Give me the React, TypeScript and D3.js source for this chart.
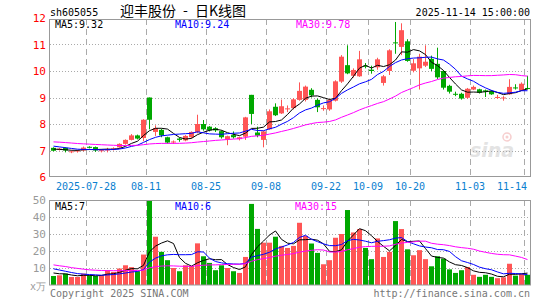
import React from 'react';
import * as d3 from 'd3';

// daily bars, 2025-07-18 .. 2025-11-14 (price in yuan, volume in 万手)
const dates = [
  '07-18', '07-21', '07-22', '07-23', '07-24', '07-25', '07-28', '07-29', '07-30', '07-31',
  '08-01', '08-04', '08-05', '08-06', '08-07', '08-08', '08-11', '08-12', '08-13', '08-14',
  '08-15', '08-18', '08-19', '08-20', '08-21', '08-22', '08-25', '08-26', '08-27', '08-28',
  '08-29', '09-01', '09-02', '09-03', '09-04', '09-05', '09-08', '09-09', '09-10', '09-11',
  '09-12', '09-15', '09-16', '09-17', '09-18', '09-19', '09-22', '09-23', '09-24', '09-25',
  '09-26', '09-29', '09-30', '10-09', '10-10', '10-13', '10-14', '10-15', '10-16', '10-17',
  '10-20', '10-21', '10-22', '10-23', '10-24', '10-27', '10-28', '10-29', '10-30', '10-31',
  '11-03', '11-04', '11-05', '11-06', '11-07', '11-10', '11-11', '11-12', '11-13', '11-14',
];
const opens = [
  7.10, 7.03, 7.10, 6.95, 6.96, 7.00, 7.14, 7.13, 6.98, 7.01,
  7.04, 7.12, 7.25, 7.40, 7.57, 7.47, 9.00, 7.70, 7.78, 7.50,
  7.32, 7.45, 7.38, 7.50, 7.70, 8.00, 7.90, 7.84, 7.73, 7.42,
  7.58, 7.43, 7.52, 9.10, 7.68, 7.40, 7.80, 8.65, 8.40, 8.56,
  8.60, 8.91, 8.91, 9.29, 8.91, 8.58, 8.55, 8.88, 9.60, 10.22,
  9.82, 9.80, 10.20, 10.05, 10.14, 9.55, 10.00, 11.08, 10.91, 11.12,
  10.01, 10.10, 10.20, 10.46, 10.27, 10.00, 9.44, 9.14, 9.14, 8.99,
  9.30, 9.31, 9.27, 9.24, 9.00, 8.98, 9.12, 9.38, 9.27, 9.36,
];
const highs = [
  7.12, 7.10, 7.12, 7.00, 7.02, 7.15, 7.16, 7.15, 7.05, 7.10,
  7.12, 7.27, 7.42, 7.62, 7.60, 8.18, 9.00, 7.95, 7.82, 7.52,
  7.38, 7.48, 7.58, 7.72, 8.35, 8.15, 7.92, 7.88, 7.76, 7.56,
  7.72, 7.52, 8.27, 9.10, 7.90, 7.75, 8.55, 8.78, 8.92, 8.70,
  8.98, 9.57, 9.45, 9.35, 8.96, 8.70, 8.95, 9.65, 10.60, 10.97,
  10.10, 10.76, 10.30, 10.20, 10.50, 9.85, 10.82, 11.85, 11.80, 11.20,
  10.45, 10.65, 10.97, 10.58, 10.88, 10.02, 9.48, 9.22, 9.18, 9.36,
  9.45, 9.33, 9.30, 9.28, 9.10, 9.05, 9.69, 9.50, 9.57, 9.82,
];
const lows = [
  6.97, 7.00, 6.93, 6.90, 6.92, 6.97, 7.08, 6.95, 6.93, 6.93,
  7.00, 7.10, 7.22, 7.38, 7.42, 7.35, 7.80, 7.55, 7.50, 7.26,
  7.25, 7.33, 7.35, 7.46, 7.65, 7.75, 7.72, 7.70, 7.45, 7.20,
  7.45, 7.38, 7.40, 8.00, 7.50, 7.12, 7.78, 8.30, 8.38, 8.45,
  8.55, 8.88, 8.85, 9.00, 8.45, 8.50, 8.50, 8.85, 9.55, 9.88,
  9.75, 9.78, 10.10, 9.90, 10.05, 9.45, 9.85, 10.65, 10.60, 10.35,
  9.95, 9.30, 10.15, 10.00, 9.70, 9.30, 9.15, 9.05, 8.92, 8.95,
  9.28, 9.15, 9.02, 9.10, 8.95, 8.88, 9.10, 9.30, 9.25, 9.30,
];
const closes = [
  6.99, 7.07, 7.00, 6.97, 7.00, 7.11, 7.10, 7.00, 7.01, 7.04,
  7.08, 7.25, 7.40, 7.57, 7.45, 8.16, 8.16, 7.85, 7.57, 7.30,
  7.34, 7.40, 7.55, 7.70, 8.00, 7.80, 7.76, 7.76, 7.50, 7.54,
  7.50, 7.50, 8.25, 8.38, 7.56, 7.72, 8.48, 8.33, 8.67, 8.59,
  8.93, 9.25, 9.41, 9.08, 8.63, 8.60, 8.91, 9.61, 10.54, 9.91,
  10.04, 10.44, 10.16, 10.00, 10.44, 9.80, 10.78, 11.05, 11.54, 10.38,
  10.29, 10.54, 10.35, 10.08, 9.76, 9.37, 9.22, 9.12, 8.96, 9.33,
  9.40, 9.18, 9.22, 9.12, 9.02, 9.00, 9.40, 9.37, 9.52, 9.32,
];
const volumes = [
  5.3, 5.7, 6.7, 4.7, 4.7, 6.7, 5.7, 5.3, 5.7, 8.7,
  7.7, 9.7, 11.6, 10.5, 8.1, 17.9, 49.5, 28.4, 19.5, 14.6,
  10.0, 8.1, 11.6, 11.2, 24.5, 16.9, 13.0, 8.7, 11.6, 10.0,
  8.1, 7.1, 16.5, 47.7, 33.0, 24.9, 24.9, 28.4, 23.0, 21.8,
  23.0, 36.6, 28.9, 24.4, 18.9, 12.2, 14.6, 27.8, 30.0, 44.1,
  30.9, 32.9, 21.8, 15.2, 27.4, 16.5, 19.5, 37.6, 32.9, 21.0,
  17.5, 20.5, 15.2, 11.0, 16.9, 15.5, 9.2, 7.1, 8.7, 10.6,
  6.0, 4.8, 6.0, 4.8, 4.0, 4.5, 12.5, 5.5, 6.5, 6.0,
];
// the 29 sessions before the window, only needed for the moving averages
const priorCloses = [
  7.40, 7.45, 7.50, 7.55, 7.48, 7.42, 7.38, 7.32, 7.35, 7.38,
  7.50, 7.45, 7.40, 7.42, 7.38, 7.35, 7.40, 7.36, 7.30, 7.33,
  7.35, 7.30, 7.25, 7.28, 7.20, 7.12, 7.08, 7.05, 7.02,
];
const priorVolumes = [
  22, 20, 24, 18, 21, 17, 12, 11, 10, 9,
  10, 11, 9, 8, 10, 9, 8, 9, 10, 12,
  13, 14, 12, 11, 10, 8, 7, 8, 7,
];

const tickDates = ['07-28', '08-11', '08-25', '09-08', '09-22', '10-09', '10-20', '11-03', '11-14'];
const tickLabels = ['2025-07-28', '08-11', '08-25', '09-08', '09-22', '10-09', '10-20', '11-03', '11-14'];
const priceTicks = [6, 7, 8, 9, 10, 11, 12];
const volTicks = [10, 20, 30, 40, 50];

const RED = '#ff5555';
const GREEN = '#00a800';
const MONO = '"DejaVu Sans Mono", monospace';
const CJK = '"Noto Sans CJK SC", sans-serif';

function movingAvg(values: number[], prior: number[], n: number) {
  const all = prior.concat(values);
  return values.map((_, i) => d3.mean(all.slice(prior.length + i - n + 1, prior.length + i + 1)) as number);
}

export default function App() {
  const left = 50, right = 530;
  const x = d3.scaleBand<string>().domain(dates).range([left, right]).paddingInner(0).paddingOuter(0);
  const y = d3.scaleLinear().domain([6, 12]).range([177, 18]);
  const yv = d3.scaleLinear().domain([0, 50]).range([285, 200]);
  const cx = (d: string) => (x(d) as number) + 3.5;

  const priceLine = d3.line<number>().x((_, i) => cx(dates[i])).y(v => y(v));
  const volLine = d3.line<number>().x((_, i) => cx(dates[i])).y(v => yv(v));

  const ma = [
    { n: 5, color: '#000000' },
    { n: 10, color: '#0000ff' },
    { n: 30, color: '#ff00ff' },
  ];

  const gridV = tickDates.map(d => Math.round(x(d) as number) + 0.5);

  return (
    <svg width={545} height={300} style={{ position: 'absolute', left: 0, top: 0, background: '#fff' }}>
      {/* header */}
      <text x={50} y={15.5} fontFamily={MONO} fontSize={10} fill="#000">sh605055</text>
      <text x={120} y={16} fontFamily={CJK} fontSize={14} fill="#000">迎丰股份</text>
      <text x={183} y={15} fontFamily={CJK} fontSize={14} fill="#000">-</text>
      <text x={195} y={16} fontFamily={CJK} fontSize={14} fill="#000">日K线图</text>
      <text x={530} y={15.5} fontFamily={MONO} fontSize={10} fill="#000" textAnchor="end">2025-11-14 15:00:00</text>

      {/* watermark */}
      <g opacity={0.5}>
        <circle cx={507} cy={137} r={4} fill="none" stroke="#f0a0a0" strokeWidth={1.5} />
        <circle cx={507} cy={137} r={1.5} fill="#f0a0a0" />
        <text x={470} y={157} fontFamily='"DejaVu Sans", sans-serif' fontSize={19} fontStyle="italic" fontWeight="bold" fill="#c8c8c8">sina</text>
      </g>

      {/* grid */}
      {priceTicks.filter(t => t > 6 && t < 12).map(t => (
        <line key={'ph' + t} x1={left} x2={right} y1={Math.round(y(t)) + 0.5} y2={Math.round(y(t)) + 0.5}
          stroke="#aaa" strokeDasharray="1,2" />
      ))}
      {volTicks.filter(t => t < 50).map(t => (
        <line key={'vh' + t} x1={left} x2={right} y1={Math.round(yv(t)) + 0.5} y2={Math.round(yv(t)) + 0.5}
          stroke="#aaa" strokeDasharray="1,2" />
      ))}
      {gridV.map((gx, k) => (
        <g key={'gv' + k}>
          <line x1={gx} x2={gx} y1={19} y2={177} stroke="#aaa" strokeDasharray="6,4" />
          <line x1={gx} x2={gx} y1={200} y2={285} stroke="#aaa" strokeDasharray="6,4" />
        </g>
      ))}

      {/* candles */}
      {dates.map((d, i) => {
        const x0 = x(d) as number;
        const up = closes[i] >= opens[i];
        const top = y(Math.max(opens[i], closes[i]));
        const bot = y(Math.min(opens[i], closes[i]));
        return (
          <g key={'c' + i} fill={up ? RED : GREEN}>
            <rect x={x0 + 3} y={y(highs[i])} width={1} height={y(lows[i]) - y(highs[i])} />
            <rect x={x0 + 1} y={top} width={5} height={Math.max(1, bot - top)} />
          </g>
        );
      })}

      {/* volume bars */}
      {dates.map((d, i) => {
        const x0 = x(d) as number;
        const up = closes[i] >= opens[i];
        return (
          <rect key={'v' + i} x={x0 + 1} y={yv(volumes[i])} width={5} height={yv(0) - yv(volumes[i])}
            fill={up ? RED : GREEN} />
        );
      })}

      {/* moving averages */}
      {ma.map(m => (
        <path key={'pm' + m.n} d={priceLine(movingAvg(closes, priorCloses, m.n)) || ''} fill="none" stroke={m.color} strokeWidth={1} />
      ))}
      {ma.map(m => (
        <path key={'vm' + m.n} d={volLine(movingAvg(volumes, priorVolumes, m.n)) || ''} fill="none" stroke={m.color} strokeWidth={1} />
      ))}

      {/* frames */}
      <rect x={left - 0.5} y={19.5} width={right - left + 1} height={157} fill="none" stroke="#999" />
      <rect x={left - 0.5} y={200.5} width={right - left + 1} height={84.5} fill="none" stroke="#999" />

      {/* legends */}
      <g fontFamily={MONO} fontSize={10}>
        <text x={55} y={28} fill="#000">MA5:9.32</text>
        <text x={175} y={28} fill="#0000ff">MA10:9.24</text>
        <text x={296} y={28} fill="#ff00ff">MA30:9.78</text>
        <text x={55} y={210} fill="#000">MA5:7</text>
        <text x={175} y={210} fill="#0000ff">MA10:6</text>
        <text x={295} y={210} fill="#ff00ff">MA30:15</text>
      </g>

      {/* axis labels */}
      <g fontFamily={MONO} fontSize={11} textAnchor="end">
        {priceTicks.map(t => (
          <text key={'pt' + t} x={46} y={y(t) + 4} fill="#ff0000">{t}</text>
        ))}
        {volTicks.map(t => (
          <text key={'vt' + t} x={46} y={yv(t) + 4} fill="#999">{t}</text>
        ))}
        <text x={46} y={290} fill="#999" fontSize={10}>x万</text>
      </g>
      <g fontFamily={MONO} fontSize={10} fill="#0a80d0">
        {tickDates.map((d, k) => {
          const gx = x(d) as number;
          const w = tickLabels[k].length * 6;
          const last = gx + w / 2 > right - 2;
          return (
            <text key={'dl' + k} x={last ? right - 3 : gx} y={190} textAnchor={last ? 'end' : 'middle'}>{tickLabels[k]}</text>
          );
        })}
      </g>

      {/* footer */}
      <text x={50} y={297} fontFamily={MONO} fontSize={10} fill="#777">Copyright 2025 SINA.COM</text>
      <text x={530} y={297} fontFamily={MONO} fontSize={10} fill="#777" textAnchor="end">http://finance.sina.com.cn</text>
    </svg>
  );
}
